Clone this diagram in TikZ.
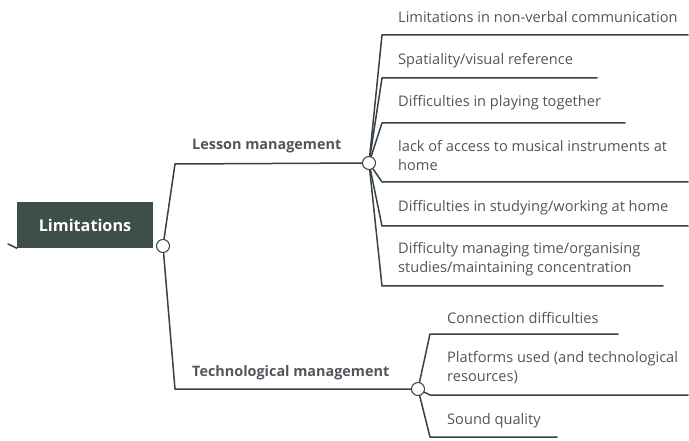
\documentclass[tikz,border=0pt]{standalone}
\usepackage{fontspec}
\setmainfont{Open Sans}
\definecolor{rootfill}{RGB}{62,78,75}
\definecolor{branch}{RGB}{55,64,70}
\definecolor{leaftext}{RGB}{80,86,92}

\begin{document}
\begin{tikzpicture}[line cap=round,line join=round,x=1pt,y=-1pt,
		branchline/.style={draw=branch,line width=1.5pt},
		knot/.style={circle,draw=branch,line width=1pt,fill=white,inner sep=0pt,minimum size=13pt},
		leaf/.style={anchor=west,text=leaftext,font=\fontsize{14.6}{19}\selectfont,align=left,inner sep=0pt},
		topic/.style={anchor=west,text=leaftext,font=\fontsize{14.4}{16}\selectfont\bfseries,inner sep=0pt}]
	\useasboundingbox (0,0) rectangle (689,441);
	% root
	\node[fill=rootfill,text=white,font=\fontsize{16.2}{18}\selectfont\bfseries,minimum width=136pt,minimum height=46pt,inner sep=0pt] (root) at (85,225) {Limitations};
	\coordinate (stub) at (8,244);
	\draw[branchline] (stub) -- (root.south west);
	% main branches
	\coordinate (lmcorner) at (175,164);
	\coordinate (tmcorner) at (175,389);
	\node[knot] (rootknot) at (163,246) {};
	\node[knot] (lm) at (369,163) {};
	\node[knot] (tm) at (418,389) {};
	\draw[branchline] (rootknot) -- (lmcorner) -- (lm);
	\draw[branchline] (rootknot) -- (tmcorner) -- (tm);
	\node[topic] at (192,146) {Lesson management};
	\node[topic] at (192,373) {Technological management};
	% lesson management leaves
	\foreach \name/\y/\xend in {la/35/688,lb/78/597,lc/123/625,ld/182/688,le/226/688,lf/286/663}{
		\coordinate (\name) at (382,\y);
		\coordinate (\name end) at (\xend,\y);
		\draw[branchline] (lm) -- (\name) -- (\name end);
	}
	\node[leaf] at (398,17) {Limitations in non-verbal communication};
	\node[leaf] at (398,61) {Spatiality/visual reference};
	\node[leaf] at (398,103) {Difficulties in playing together};
	\node[leaf] at (398,155) {lack of access to musical instruments at\\home};
	\node[leaf] at (398,208) {Difficulties in studying/working at home};
	\node[leaf] at (398,259) {Difficulty managing time/organising\\studies/maintaining concentration};
	% technological management leaves
	\foreach \name/\y/\xend in {ta/334/618,tb/395/688,tc/437/557}{
		\coordinate (\name) at (430,\y);
		\coordinate (\name end) at (\xend,\y);
		\draw[branchline] (tm) -- (\name) -- (\name end);
	}
	\node[leaf] at (447,318) {Connection difficulties};
	\node[leaf] at (447,368) {Platforms used (and technological\\resources)};
	\node[leaf] at (447,421) {Sound quality};
\end{tikzpicture}
\end{document}
